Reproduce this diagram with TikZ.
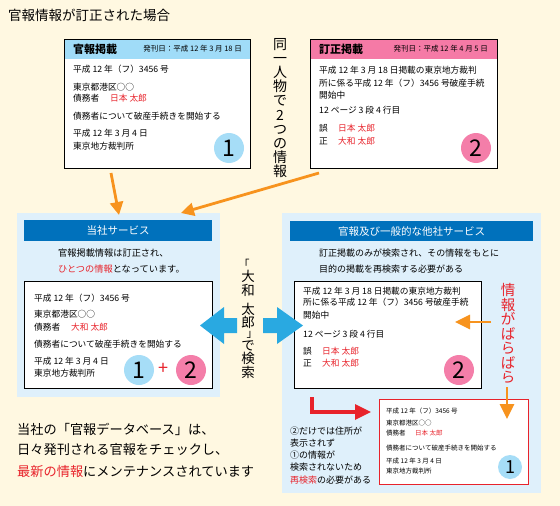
\documentclass[tikz,border=0pt]{standalone}
\usepackage{fontspec}
\setmainfont{Noto Sans CJK JP}
\usetikzlibrary{arrows.meta}
\definecolor{bgc}{HTML}{FFF8E1}
\definecolor{panelc}{HTML}{DFF0FB}
\definecolor{dblue}{HTML}{0071BC}
\definecolor{hdrone}{HTML}{A0DCF8}
\definecolor{hdrtwo}{HTML}{F57AA6}
\definecolor{cone}{HTML}{A6DDF7}
\definecolor{ctwo}{HTML}{F47EA9}
\definecolor{redc}{HTML}{E8232B}
\definecolor{orangec}{HTML}{F7931E}
\definecolor{bluec}{HTML}{29A9E1}
\newcommand\fsz[1]{\fontsize{#1}{#1}\selectfont}
\begin{document}
\begin{tikzpicture}[x=1pt,y=-1pt,
  txt/.style={anchor=west,inner sep=0pt,font=\fsz{8.7}},
  stxt/.style={anchor=west,inner sep=0pt,font=\fsz{6.5}},
  nm/.style={text=redc},
  hdrtitle/.style={anchor=west,inner sep=0pt,font=\fsz{11}\bfseries},
  hdrdate/.style={anchor=east,inner sep=0pt,font=\fsz{7.5}},
  bandtext/.style={inner sep=0pt,text=white,font=\fsz{10.5}},
  numc/.style={circle,inner sep=0pt,minimum size=30pt,font=\fsz{23}},
  smallnumc/.style={circle,inner sep=0pt,minimum size=24pt,font=\fsz{18}},
  vchar/.style={inner sep=0pt,font=\fsz{13.5}},
  qchar/.style={inner sep=0pt,font=\fsz{11}},
  oarr/.style={draw=orangec,line width=2.8pt,-{Triangle[length=13pt,width=13pt]}},
  oarrs/.style={draw=orangec,line width=2.8pt,-{Triangle[length=15pt,width=14pt]}},
  rarr/.style={draw=redc,line width=3.3pt,-{Triangle[length=16pt,width=15pt]}},
  barr/.style={fill=bluec},
  frame/.style={draw=black,line width=0.9pt}
]
\useasboundingbox (0,0) rectangle (560,506);
\fill[bgc] (0,0) rectangle (560,506);

% title
\node[anchor=west,inner sep=0pt,font=\fsz{13.5}] (title) at (8,15) {官報情報が訂正された場合};

% ---------- box 1
\node[anchor=north west,inner sep=0pt,fill=white,minimum width=186pt,minimum height=129pt] (box1) at (64,39) {};
\fill[hdrone] (64,39) rectangle (250,59);
\draw[frame] (box1.north west) rectangle (box1.south east);
\node[hdrtitle] (b1h) at (73,49) {官報掲載};
\node[hdrdate] (b1d) at (242,49) {発刊日：平成 12 年 3 月 18 日};
\node[txt] (b1l1) at (73,69) {平成 12 年（フ）3456 号};
\node[txt] (b1l2) at (73,87) {東京都港区○○};
\node[txt] (b1l3) at (73,98) {債務者};
\node[txt,nm] (b1n) at (110,98) {日本 太郎};
\node[txt] (b1l4) at (73,116) {債務者について破産手続きを開始する};
\node[txt] (b1l5) at (73,133) {平成 12 年 3 月 4 日};
\node[txt] (b1l6) at (73,146) {東京地方裁判所};
\node[numc,fill=cone] (b1c) at (229,148) {1};

% ---------- box 2
\node[anchor=north west,inner sep=0pt,fill=white,minimum width=187pt,minimum height=129pt] (box2) at (310,39) {};
\fill[hdrtwo] (310,39) rectangle (497,59);
\draw[frame] (box2.north west) rectangle (box2.south east);
\node[hdrtitle] (b2h) at (319,49) {訂正掲載};
\node[hdrdate] (b2d) at (488,49) {発刊日：平成 12 年 4 月 5 日};
\node[txt] (b2l1) at (319,70) {平成 12 年 3 月 18 日掲載の東京地方裁判};
\node[txt] (b2l2) at (319,83) {所に係る平成 12 年（フ）3456 号破産手続};
\node[txt] (b2l3) at (319,95) {開始中};
\node[txt] (b2l4) at (319,110) {12 ページ 3 段 4 行目};
\node[txt] (b2l5) at (319,128) {誤};
\node[txt,nm] (b2n1) at (338,128) {日本 太郎};
\node[txt] (b2l6) at (319,141) {正};
\node[txt,nm] (b2n2) at (338,141) {大和 太郎};
\node[numc,fill=ctwo] (b2c) at (476,148) {2};

% vertical text between boxes
\node[inner sep=0pt,align=center,font=\fontsize{14}{14.2}\selectfont] (same) at (280,108)
  {同\\一\\人\\物\\で\\2\\つ\\の\\情\\報};

% ---------- left panel
\fill[panelc] (17,213) rectangle (220,397);
\fill[dblue] (24,220) rectangle (212,241);
\node[bandtext] (lph) at (118,230.5) {当社サービス};
\node[txt,font=\fsz{9.2}] (lpt1) at (58,253) {官報掲載情報は訂正され、};
\node[txt,font=\fsz{9.2}] (lpt2) at (58,269) {\textcolor{redc}{ひとつの情報}となっています。};
\node[anchor=north west,inner sep=0pt,fill=white,draw=black,line width=0.9pt,minimum width=188pt,minimum height=107pt] (lbox) at (24,281) {};
\node[txt] (ll1) at (34,298) {平成 12 年（フ）3456 号};
\node[txt] (ll2) at (34,314) {東京都港区○○};
\node[txt] (ll3) at (34,327) {債務者};
\node[txt,nm] (lln) at (71,327) {大和 太郎};
\node[txt] (ll4) at (34,344) {債務者について破産手続きを開始する};
\node[txt] (ll5) at (34,361) {平成 12 年 3 月 4 日};
\node[txt] (ll6) at (34,373) {東京地方裁判所};
\node[numc,fill=cone] (lc1) at (139,370) {1};
\node[inner sep=0pt,text=redc,font=\fsz{18}] (plus) at (163,369) {+};
\node[numc,fill=ctwo] (lc2) at (191,370) {2};

% ---------- right panel
\fill[panelc] (282,213) rectangle (541,493);
\fill[dblue] (290,221) rectangle (533,241);
\node[bandtext] (rph) at (411.5,231) {官報及び一般的な他社サービス};
\node[txt,font=\fsz{9}] (rpt1) at (319,253) {訂正掲載のみが検索され、その情報をもとに};
\node[txt,font=\fsz{9}] (rpt2) at (319,269) {目的の掲載を再検索する必要がある};
\node[anchor=north west,inner sep=0pt,fill=white,draw=black,line width=0.9pt,minimum width=187pt,minimum height=107pt] (rbox) at (294,281) {};
\node[txt] (rl1) at (303,291) {平成 12 年 3 月 18 日掲載の東京地方裁判};
\node[txt] (rl2) at (303,302.5) {所に係る平成 12 年（フ）3456 号破産手続};
\node[txt] (rl3) at (303,315) {開始中};
\node[txt] (rl4) at (303,334) {12 ページ 3 段 4 行目};
\node[txt] (rl5) at (303,351) {誤};
\node[txt,nm] (rln1) at (322,351) {日本 太郎};
\node[txt] (rl6) at (303,363) {正};
\node[txt,nm] (rln2) at (322,363) {大和 太郎};
\node[numc,fill=ctwo] (rc2) at (459,370) {2};

% red box
\node[anchor=north west,inner sep=0pt,fill=white,draw=redc,line width=0.9pt,minimum width=149pt,minimum height=85pt] (redbox) at (379,399) {};
\node[stxt] (sl1) at (386,411) {平成 12 年（フ）3456 号};
\node[stxt] (sl2) at (386,423) {東京都港区○○};
\node[stxt] (sl3) at (386,433) {債務者};
\node[stxt,nm] (sln) at (415,433) {日本 太郎};
\node[stxt] (sl4) at (386,448) {債務者について破産手続きを開始する};
\node[stxt] (sl5) at (386,461) {平成 12 年 3 月 4 日};
\node[stxt] (sl6) at (386,471) {東京地方裁判所};
\node[smallnumc,fill=cone] (sc1) at (510,467) {1};

% small note
\node[txt,font=\fsz{9}] (nt1) at (290,431) {②だけでは住所が};
\node[txt,font=\fsz{9}] (nt2) at (290,443) {表示されず};
\node[txt,font=\fsz{9}] (nt3) at (290,455) {①の情報が};
\node[txt,font=\fsz{9}] (nt4) at (290,467) {検索されないため};
\node[txt,font=\fsz{9}] (nt5) at (290,480) {\textcolor{redc}{再検索}の必要がある};

% red vertical text
\node[inner sep=0pt,align=center,text=redc,font=\fontsize{14.5}{14.5}\selectfont] (bara) at (508,333.5)
  {情\\報\\が\\ば\\ら\\ば\\ら};

% vertical search text
\node[qchar] (q1) at (244,264) {「};
\node[vchar] (v1) at (248,276) {大};
\node[vchar] (v2) at (248,290) {和};
\node[vchar] (v3) at (248,309) {太};
\node[vchar] (v4) at (248,322.5) {郎};
\node[qchar] (q2) at (252,335) {」};
\node[vchar] (v5) at (248,346) {で};
\node[vchar] (v6) at (248,358.5) {検};
\node[vchar] (v7) at (248,372) {索};

% bottom-left text
\node[txt,font=\fsz{13.2}] (bt1) at (17,429) {当社の「官報データベース」は、};
\node[txt,font=\fsz{13.2}] (bt2) at (17,450) {日々発刊される官報をチェックし、};
\node[txt,font=\fsz{13.2}] (bt3) at (17,472) {\textcolor{redc}{最新の情報}にメンテナンスされています};

% ---------- connectors
\coordinate (o1s) at (111,173);
\coordinate (o1e) at (119,215);
\coordinate (o2s) at (319,173);
\coordinate (o2e) at (181,213);
\draw[oarr] (o1s) -- (o1e);
\draw[oarr] (o2s) -- (o2e);
\coordinate (o3s) at (491,322);
\coordinate (o3e) at (455,322);
\draw[oarrs] (o3s) -- (o3e);
\coordinate (o4s) at (507,387);
\coordinate (o4e) at (507,419);
\draw[oarrs] (o4s) -- (o4e);
\coordinate (r1s) at (312,397);
\coordinate (r1e) at (371,412);
\draw[rarr] (r1s) |- (r1e);

% blue block arrows
\fill[barr] (200,325.5) -- (224,307) -- (224,318) -- (237,318) -- (237,333) -- (224,333) -- (224,344) -- cycle;
\fill[barr] (303,325.5) -- (277,307) -- (277,318) -- (263,318) -- (263,333) -- (277,333) -- (277,344) -- cycle;
\end{tikzpicture}
\end{document}
